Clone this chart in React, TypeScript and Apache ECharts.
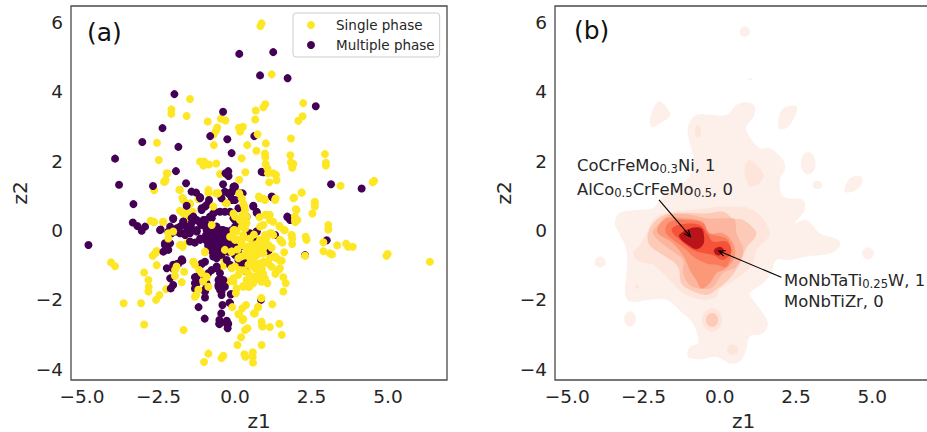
import React, { useEffect, useRef } from "react";
import * as echarts from "echarts";

type P = [number, number];

const xTicks = [-5, -2.5, 0, 2.5, 5];
const yTicks = [-4, -2, 0, 2, 4, 6];

const singlePhaseBack: P[] = [
[-1.47,3.79],[-2.08,3.49],[-2.08,3.36],[-1.58,3.30],[-.89,3.14],[-.46,3.22],[-.31,3.17],[-.58,2.97],[-.62,2.88],[-.69,2.77],
[-2.55,2.53],[-.69,2.46],[-2.49,2.03],[-1.14,1.99],[-1.01,1.99],[-1.03,1.87],[-.85,1.90],[-.61,1.93],[-2.21,1.64],[-.49,1.63],
[-2.27,1.46],[-2.32,1.40],[-2.64,1.16],[-1.80,1.17],[-1.72,.94],[-.87,1.17],[-.62,1.07],[-.49,1.04],[-1.69,.90],[-1.47,.76],
[-1.20,.90],[-.87,1.07],[-.54,1.07],[-.31,.80],[-2.76,.28],[-2.64,.24],[-2.34,.25],[-1.80,.57],[-1.67,.48],[-1.38,.54],[-1.53,.32],
[-1.80,-.42],[-1.71,-.47],[-1.53,-.32],[-2.56,-.59],[-2.61,-.66],[-2.69,-.73],[-2.56,-1.00],[-2.97,-1.21],[-4.05,-.92],[-3.92,-1.03],
[-2.83,-1.43],[-2.82,-1.62],[-2.83,-1.76],[-2.47,-1.86],[-2.25,-1.69],[-2.58,-2.00],[-3.64,-2.10],[-3.07,-2.10],[-2.97,-2.71],[-1.68,-2.87],
[-1.74,-1.49],[-1.66,-1.19],[-.38,-1.02],[-.22,-1.47],[-.33,-.66],[-.38,-.80],[-.87,-3.55],[-1.01,-3.79],[-.38,-3.61],[-.44,-3.68],
[-2.29,1.41],[-2.23,1.65],[-1.82,1.17],[-1.69,.88],[-1.47,.78],[-1.74,.54],[-1.58,.49],[-2.67,.25],[-2.36,.25],[-2.61,-.66],[-1.74,-.42],
];

const singlePhaseFront: P[] = [
[.87,5.97],[.83,5.89],[1.20,4.50],[.13,2.96],[.26,2.99],[.17,2.85],[.68,3.46],[.93,3.55],[.99,3.64],[.66,3.20],[2.23,3.67],[2.21,3.29],
[2.07,3.16],[.74,2.77],[1.83,2.65],[.40,2.46],[1.01,2.51],[.70,2.30],[.98,2.22],[.99,2.11],[1.81,2.17],[2.94,2.20],[.22,2.08],[1.83,1.96],
[1.91,1.92],[1.87,1.81],[2.97,1.95],[2.97,1.87],[1.0,1.92],[1.06,1.79],[1.08,1.65],[1.25,1.65],[1.34,1.60],[1.36,1.45],[.34,1.68],[.14,1.46],
[1.12,1.39],[4.55,1.43],[4.50,1.39],[3.45,1.29],[2.18,1.09],[.14,1.07],[.78,.98],[.93,.91],[1.33,.92],[1.93,.95],[2.61,.83],[.22,.93],[.31,.69],
[2.61,.80],[2.61,.69],[1.99,.61],[2.53,.49],[1.96,.40],[2.04,.30],[1.97,.24],[1.03,.45],[1.14,.30],[.80,.38],[.25,.45],[.38,.21],[.82,.11],
[1.45,.13],[1.60,.01],[3.05,.16],[3.05,.03],[1.85,-.13],[1.87,-.24],[1.87,-.39],[2.31,-.18],[2.34,-.27],[2.89,-.34],[3.34,-.43],[3.63,-.38],
[3.70,-.47],[3.85,-.47],[2.89,-.60],[3.10,-.66],[3.17,-.69],[2.29,-.73],[4.99,-.68],[4.95,-.73],[6.37,-.90],[1.61,-.63],[1.47,-.27],[1.55,-.35],
[1.25,-.13],[1.14,-.08],[-2.18,-.08],[-2.02,-.03],[-2.18,-.23],[-.98,-.63],[-1.96,-1.31],[-1.91,-1.04],[-1.96,-1.14],[-1.36,-.90],[-1.31,-.99],
[-1.17,-1.14],[-1.09,-1.23],[-.93,-1.35],[-1.27,-1.86],[-1.31,-1.91],[-.87,-1.62],[-1.20,-1.71],[-.11,-1.09],[.16,-1.14],[.11,-1.28],[-.05,-1.38],
[.27,-1.60],[.44,-1.62],[.60,-1.52],[.82,-1.43],[.98,-1.38],[1.06,-1.52],[1.58,-1.35],[1.66,-1.52],[1.58,-1.76],[1.47,-1.09],[1.42,-1.14],[1.25,-.75],
[1.36,-.80],[1.53,-.87],[.87,-1.12],[.71,-1.09],[.49,-.99],[.60,-1.33],[.54,-.90],[.38,-.61],[.38,-.47],[.54,-.42],[.71,-.56],[.82,-.66],[.93,-.51],
[.82,-.27],[1.09,-.42],[.11,-.27],[.22,-.42],[.27,-.13],[-.05,-.08],[0,.01],[.22,.11],[-.11,-.61],[.93,-.90],[.76,-.95],[.85,-1.95],[.76,-2.20],
[.65,-2.39],[1.22,-2.13],[-.09,-2.21],[.24,-2.24],[.11,-2.41],[.27,-2.55],[.36,-2.15],[.87,-2.63],[.89,-2.74],[1.45,-2.69],[1.14,-2.78],[1.53,-3.01],
[.33,-2.87],[.41,-2.82],[.20,-3.08],[.08,-3.30],[.87,-3.30],[.31,-3.57],[.34,-3.64],[.58,-3.51],[.58,-3.64],[.59,-3.81],
];

const singlePhaseExtra: P[] = [
[-.55,1.07],[-.27,.78],[-.71,.69],[-.76,.16],[-.98,-.61],[-1.36,-.90],[-.33,-.56],
[0,.40],[.27,.78],[.33,.59],[.16,.30],[.38,.40],[.82,.93],[.98,.88],[1.31,.88],[1.14,.45],[.98,.45],[.93,.16],[1.25,.25],[1.47,.11],[1.63,.01],
[1.91,.93],[2.18,1.09],[2.01,.59],[1.96,.30],[1.85,-.13],[1.52,-.32],[-.05,.01],[.05,-.03],[.33,.06],[0,-.27],[.22,-.37],[.49,-.23],[.82,-.32],[.98,-.13],
[1.2,-.08],[.38,-.56],[.55,-.61],[.76,-.51],[1.03,-.42],[.49,-.80],[.71,-.71],[.93,-.66],[1.14,-.80],[1.31,-.75],[1.47,-.87],[.44,-.99],[.65,-.95],[.87,-.99],
[1.09,-.95],[.65,-1.09],[.87,-1.12],[-.11,-.61],[.11,-.80],[0,-1.04],[-.16,-.18],[-.05,.49],
[-1.04,-1.47],[-.93,-1.33],[-.05,-1.47],[.05,-1.67],[.03,-1.81],[.27,-1.62],[.47,-1.62],[.65,-1.43],[.87,-1.48],[.38,-1.43],[.54,-1.33],[.76,-1.28],
[1.45,-1.11],[.87,-1.95],[.75,-2.22],[.62,-2.39],[.14,-2.42],[.25,-2.58],[.90,-2.77],
[.30,-.20],[.62,-.12],[.68,-.40],[1.02,-.24],[1.20,-.50],[.30,-.72],[.60,-.82],[.92,-1.25],[1.20,-1.05],[1.32,-1.25],[.28,-1.15],[.42,-1.22],[.08,-.55],[.20,-.75],
];

const multiplePhase: P[] = [
[.14,5.09],[1.25,5.14],[.82,4.47],[1.72,4.39],[-1.98,3.93],[-.39,3.42],[2.64,3.58],[-2.37,2.95],[-.81,2.72],[.63,2.72],[-.25,2.63],[-3.03,2.55],
[-1.85,2.41],[-3.92,2.07],[-.11,2.23],[-1.93,1.71],[-.22,1.71],[-.31,1.65],[-.21,1.57],[.93,1.68],[-3.79,1.32],[-2.68,1.28],[-1.60,1.36],[-.39,1.33],
[-.02,1.27],[3.14,1.33],[4.14,1.21],[-1.42,1.12],[-1.27,1.09],[-1.14,.96],[-.33,1.12],[-.22,1.07],[-.09,1.12],[.25,1.07],[1.22,.96],[-.85,.88],[-.10,.90],
[-3.32,.76],[-3.34,.23],[-3.19,.13],[-3.05,-.01],[-2.94,.11],[-2.43,.03],[-2.02,.33],[-4.79,-.42],[-2.12,.11],[-2.18,-.03],[-1.91,.06],[-1.80,-.08],
[-1.63,-.13],[-1.53,-.03],[-1.42,.06],[-1.25,-.03],[-1.69,.25],[-1.42,.35],[-1.14,.21],[-1.03,.30],[-.93,.16],[-.76,.35],[-1.58,.71],[-1.09,.59],[-.98,.69],
[-.87,.78],[-.71,.49],[-.49,.54],[-.33,.54],[-.16,.54],[.05,.30],[.11,.21],[-.09,.88],[.60,.71],[.71,.51],[1.72,.38],[1.82,.32],[1.31,-.13],[.71,-.03],
[.49,-.08],[3.00,-.28],[2.29,-.71],[-1.31,-.35],[-1.14,-.27],[-2.12,-.37],[-2.21,-.47],[-2.29,-.42],[-2.34,-.61],[-2.18,-.56],
[-.93,.02],[-.76,.05],[-.60,.03],[-.44,.01],[-.27,-.02],[-.95,-.14],[-.78,-.12],[-.62,-.15],[-.45,-.13],[-.28,-.16],[-.93,-.29],[-.75,-.28],[-.60,-.30],
[-.43,-.27],[-.26,-.29],[-.88,-.43],[-.72,-.42],[-.58,-.45],[-.42,-.43],[-.30,-.42],[-.80,-.57],[-.66,-.56],[-.52,-.58],[-.38,-.55],[-.70,-.71],[-.55,-.72],[-.44,-.70],
[1.09,-.59],[-.11,-.51],[.05,-.47],[0,-.71],[.22,-.97],[-.27,-.85],[-.60,-.80],[-.98,-.90],[-1.09,-.97],[-1.72,-.87],[-1.91,-.97],[-2.04,-1.09],[-2.12,-1.38],
[-2.02,-1.57],[-2.10,-1.67],[-1.31,-1.35],[-1.25,-1.52],[-1.31,-1.67],[-.93,-1.52],[-.98,-1.71],[-.98,-1.93],[-.87,-1.23],[-.76,-1.14],[-.60,-1.09],[-.49,-1.38],
[-.54,-1.57],[-.49,-1.71],[-.44,-1.86],[-.38,-1.62],[-.13,-1.84],[-.16,-2.10],[-.41,-2.15],[-1.19,-2.21],[-.45,-2.39],[-.99,-2.54],[-.51,-2.68],[-.27,-2.60],
[-.22,-2.69],[-.24,-2.82],[.36,-1.17],[.85,-2.00],
[-1.14,.93],[-.93,.73],[-1.09,.64],[-1.25,.30],[-1.42,.21],[-1.58,.11],[-1.69,.26],[-1.80,.11],[-1.91,-.03],[-1.69,-.08],[-1.47,-.08],[-1.25,.01],[-1.09,.16],
[-.98,.30],[-.82,.40],[-.65,.54],[-.16,1.02],[-.44,.93],[0,.88],[.11,.64],[-.05,1.26],[-.27,1.63],[-.82,.01],[-.60,.11],[-.38,.01],[-.71,-.18],[-.49,-.13],
[-.22,-.18],[-.82,-.51],[-.60,-.42],[-.33,-.42],[-.71,-.75],[-.49,-.66],[-.22,-.61],[-.11,-.42],[0,.11],[-.11,.01],[-2.45,.01],[-2.07,-.08],[-2.29,-.37],
[-1.74,-.83],[-1.85,-.95],[-2.02,-.99],[-2.23,-1.09],[-1.36,.40],[-2.02,.35],[-1.14,-.23],[-1.47,-.32],[.11,-.66],[.33,-.80],[-.16,-.99],
[.60,.69],[.71,.54],[1.2,.98],[1.71,.40],[1.8,.30],[-.11,1.12],[0,1.26],[-.08,.88],[.16,1.07],[.87,1.69],[0,.30],[.38,.40],[-.05,.35],[.71,-.03],[.49,-.13],[.60,-.23],
[0,-.42],[.16,-.47],[.05,-.71],[.11,-.85],[.22,-.99],[1.09,-.59],
[-1.25,-1.33],[-1.31,-1.52],[-.98,-1.33],[-.93,-1.57],[-.98,-1.76],[-.60,-1.04],[-.49,-1.23],[-.54,-1.43],[-.38,-1.43],[-.54,-1.62],[-.44,-1.76],[-.33,-1.62],
[-.14,-1.84],[-.18,-2.08],[-.51,-2.58],[-.51,-2.70],[-.27,-2.68],[-1.09,-.95],[.35,-1.17],
];

const levelColors = ["#fdefe9", "#fde5db", "#fccab7", "#fcb59f", "#fb9878", "#fb7a5b", "#f4533a", "#b81419"];

const level1Main: P[] = [
[.87,3.70],[1.15,3.57],[1.11,3.28],[.87,2.99],[.98,2.70],[1.31,2.37],[1.64,2.37],[2.08,2.03],[2.13,1.74],[1.97,1.46],[2.08,.98],[2.73,.88],[2.79,.59],[2.46,.21],
[2.84,.30],[3.28,-.08],[3.88,-.27],[3.93,-.46],[3.61,-.66],[2.84,-.75],[2.30,-.85],[1.86,-.85],[1.69,-1.23],[1.42,-1.52],[.98,-1.81],[1.09,-2.00],[1.42,-2.39],
[1.58,-2.68],[1.42,-2.96],[.98,-3.06],[.87,-3.44],[.66,-3.78],[.33,-3.83],[-.11,-3.64],[-.66,-3.71],[-1.04,-3.64],[-.98,-3.35],[-.71,-3.25],[-.87,-2.68],[-1.20,-2.39],
[-1.75,-2.00],[-2.30,-2.00],[-2.95,-2.05],[-3.11,-1.81],[-3.06,-1.33],[-3.06,-.56],[-3.33,-.03],[-3.44,.21],[-3.28,.50],[-2.73,.59],[-2.19,.64],[-1.97,.88],[-1.64,1.12],
[-1.20,1.36],[-.93,1.65],[-.87,2.13],[-1.01,2.61],[-1.04,2.99],[-.77,3.33],[-.22,3.33],[.22,3.33],[.55,3.62],
];
const level1IslandA: P[] = [[-2.27,3.28],[-2.02,3.71],[-1.80,3.62],[-1.62,3.33],[-1.86,3.14],[-2.24,2.99]];
const level1IslandB: P[] = [[1.91,3.14],[2.08,3.52],[2.51,3.59],[2.51,3.38],[2.24,2.99],[1.97,2.92]];
const level1IslandC: P[] = [[4.10,1.12],[4.26,1.50],[4.64,1.55],[4.64,1.31],[4.37,1.12]];
const level2IslandA: P[] = [[.82,1.84],[.98,2.03],[1.42,1.65],[1.31,1.36],[.98,1.26],[.87,1.46]];
const level2Main: P[] = [
[-2.84,-.66],[-2.62,-.42],[-2.40,-.08],[-2.19,.30],[-1.86,.49],[-.98,.59],[-.44,.64],[.11,.69],[1.09,.59],[1.64,-.08],[1.20,-.56],[1.09,-.95],[.66,-1.33],[0,-1.71],
[-.11,-1.91],[-.55,-2.00],[-1.20,-1.81],[-1.53,-1.52],[-2.19,-.99],[-2.62,-.90],
];
const level3Main: P[] = [
[-2.35,-.08],[-2.08,.30],[-1.64,.49],[-.44,.49],[.11,.54],[.44,.35],[.77,.30],[1.20,-.08],[.87,-.51],[.66,-.95],[.33,-1.38],[-.11,-1.71],[-.44,-1.86],[-.98,-1.71],
[-1.26,-1.52],[-1.37,-1.04],[-1.86,-.71],[-2.30,-.42],
];
const level4Main: P[] = [
[-2.19,-.08],[-1.97,.21],[-1.64,.45],[-.98,.45],[-.44,.35],[.22,.35],[.49,.30],[.55,-.08],[.77,-.56],[.55,-1.04],[.11,-1.23],[-.22,-1.62],[-.55,-1.69],[-.98,-1.57],
[-1.20,-1.23],[-1.20,-.85],[-1.75,-.47],
];
const level5Main: P[] = [
[-2.05,-.03],[-1.75,.35],[-1.20,.35],[-.55,.25],[-.38,-.08],[.11,-.08],[.44,-.37],[.49,-.75],[.22,-1.09],[-.11,-1.23],[-.33,-1.52],[-.60,-1.67],[-.77,-1.43],[-.98,-1.14],
[-1.15,-.80],[-1.53,-.37],
];
const level6Main: P[] = [
[-1.78,-.03],[-1.64,.25],[-1.09,.30],[-.55,.21],[-.33,-.08],[.22,-.23],[.38,-.56],[.22,-1.04],[-.11,-.99],[-.44,-.95],[-.87,-.75],[-1.09,-.56],[-1.53,-.27],
];
const level7Main: P[] = [
[-1.58,.01],[-1.37,.16],[-.66,.16],[-.38,-.13],[-.22,-.32],[.22,-.32],[.38,-.61],[.11,-.85],[-.22,-.71],[-.49,-.66],[-.87,-.56],[-1.31,-.27],
];
const level8Left: P[] = [[-1.33,-.13],[-.98,.06],[-.60,.06],[-.51,-.18],[-.55,-.42],[-.77,-.54],[-1.04,-.42],[-1.26,-.27]];
const level8Right: P[] = [[-.19,-.56],[0,-.47],[.13,-.56],[.02,-.71],[-.13,-.69]];

// [level, cx, cy, rx, ry] in data units
const islands: number[][] = [
[0,.82,5.73,.17,.15],[0,.99,4.36,.08,.03],[0,2.90,1.94,.24,.32],[0,3.20,1.31,.16,.12],[0,-3.92,-.91,.18,.16],[0,4.86,-.66,.19,.17],[0,-2.94,-2.55,.19,.22],
[1,-2.71,-1.62,.07,.06],[1,.42,-3.44,.18,.15],[1,-.25,-2.58,.33,.34],[2,-.25,-2.58,.2,.2],[1,-.71,2.85,.1,.18],
];

const contours: { level: number; points: P[] }[] = [
  { level: 0, points: level1Main }, { level: 0, points: level1IslandA }, { level: 0, points: level1IslandB }, { level: 0, points: level1IslandC },
  { level: 1, points: level2IslandA }, { level: 1, points: level2Main }, { level: 2, points: level3Main }, { level: 3, points: level4Main },
  { level: 4, points: level5Main }, { level: 5, points: level6Main }, { level: 6, points: level7Main }, { level: 7, points: level8Left }, { level: 7, points: level8Right },
];

// [tailX, tailY, headX, headY]
const arrows: number[][] = [[-1.99,.88,-.96,-.18],[2.02,-1.35,-.03,-.59]];

const fmtX = (v: number) => v.toFixed(1).replace("-", "\u2212");
const fmtY = (v: number) => String(v).replace("-", "\u2212");

const FONT = "DejaVu Sans";
const TEXT = "#262626";
const sub = { fontFamily: FONT, fontSize: 11.6, fill: TEXT, verticalAlign: "bottom", lineHeight: 14, padding: [7, 0, 0, 0] };
const base = { fontFamily: FONT, fontSize: 16.4, fill: TEXT, lineHeight: 20 };

const annText = (x: number, y: number, text: string) => ({
  type: "text", x, y, z: 50,
  style: { text, fontFamily: FONT, fontSize: 16.4, fill: TEXT, textVerticalAlign: "middle", rich: { b: base, s: sub } },
});

export default function App() {
  const ref = useRef<HTMLDivElement>(null);
  useEffect(() => {
    document.body.style.margin = "0";
    const chart = echarts.init(ref.current!, undefined, { renderer: "svg" });
    const axisCommon = {
      type: "value", splitLine: { show: false }, axisLine: { show: false }, axisTick: { show: false },
      nameLocation: "middle",
      nameTextStyle: { fontFamily: FONT, fontSize: 20, color: TEXT },
    };
    const xAxis = (i: number, min: number, max: number) => ({
      ...axisCommon, gridIndex: i, min, max, name: "z1", nameGap: 31,
      axisLabel: { customValues: xTicks, formatter: fmtX, fontFamily: FONT, fontSize: 18.5, color: TEXT, margin: 7 },
    });
    const yAxis = (i: number, min: number, max: number) => ({
      ...axisCommon, gridIndex: i, min, max, name: "z2", nameGap: 41,
      axisLabel: { customValues: yTicks, formatter: fmtY, fontFamily: FONT, fontSize: 18.5, color: TEXT, margin: 8 },
    });
    const scatterBase = { type: "scatter", symbol: "circle", symbolSize: 8, xAxisIndex: 0, yAxisIndex: 0, silent: true };
    const yellow = { color: "#fde725", opacity: 1 };
    const purple = { color: "#440154", opacity: 1 };
    chart.setOption({
      animation: false,
      backgroundColor: "#fff",
      grid: [
        { left: 71, top: 6, width: 376, height: 374, show: true, outerBoundsMode: "none", borderColor: "#4a4a4a", borderWidth: 1.3, backgroundColor: "transparent" },
        { left: 555, top: 6, width: 377, height: 374, show: true, outerBoundsMode: "none", borderColor: "#4a4a4a", borderWidth: 1.3, backgroundColor: "transparent" },
      ],
      xAxis: [xAxis(0, -5.36, 6.93), xAxis(1, -5.4, 6.96)],
      yAxis: [yAxis(0, -4.31, 6.47), yAxis(1, -4.31, 6.47)],
      legend: {
        left: 293, top: 13, orient: "vertical", data: ["Single phase", "Multiple phase"],
        icon: "circle", itemWidth: 40, itemHeight: 8, itemGap: 6, padding: [5, 5, 5, 14],
        borderColor: "#cccccc", borderWidth: 1, borderRadius: 3, backgroundColor: "#ffffff",
        textStyle: { fontFamily: FONT, fontSize: 13.5, color: TEXT },
        selectedMode: false,
      },
      series: [
        { ...scatterBase, name: "Single phase", data: singlePhaseBack, itemStyle: yellow },
        { ...scatterBase, name: "Multiple phase", data: multiplePhase, itemStyle: purple },
        { ...scatterBase, name: "Single phase", data: singlePhaseFront, itemStyle: yellow },
        { ...scatterBase, name: "Single phase", data: singlePhaseExtra, itemStyle: yellow },
        {
          type: "custom", name: "density", xAxisIndex: 1, yAxisIndex: 1, silent: true, clip: false,
          data: [[0, 0]],
          renderItem: (_p: any, api: any) => {
            const children: any[] = [];
            const order = [0, 1, 2, 3, 4, 5, 6, 7];
            for (const lv of order) {
              for (const c of contours.filter((k) => k.level === lv)) {
                children.push({
                  type: "polygon",
                  shape: { points: c.points.map((p) => api.coord(p)), smooth: 0.35 },
                  style: { fill: levelColors[lv], stroke: "none" },
                });
              }
              for (const e of islands.filter((k) => k[0] === lv)) {
                const [cx, cy] = api.coord([e[1], e[2]]);
                const s = api.size([e[3], e[4]]);
                children.push({ type: "ellipse", shape: { cx, cy, rx: s[0], ry: s[1] }, style: { fill: levelColors[lv], stroke: "none" } });
              }
            }
            for (const a of arrows) {
              const t = api.coord([a[0], a[1]]);
              const h = api.coord([a[2], a[3]]);
              const ang = Math.atan2(t[1] - h[1], t[0] - h[0]);
              const L = 7, W = 0.42;
              children.push({ type: "line", shape: { x1: t[0], y1: t[1], x2: h[0], y2: h[1] }, style: { stroke: "#000", lineWidth: 1.1 } });
              children.push({
                type: "polyline",
                shape: { points: [
                  [h[0] + L * Math.cos(ang + W), h[1] + L * Math.sin(ang + W)], h,
                  [h[0] + L * Math.cos(ang - W), h[1] + L * Math.sin(ang - W)],
                ] },
                style: { stroke: "#000", lineWidth: 1.1, fill: "none" },
              });
            }
            return { type: "group", children };
          },
        },
      ],
      graphic: [
        { type: "text", x: 87, y: 32, z: 50, style: { text: "(a)", fontFamily: FONT, fontSize: 25, fill: "#111", textVerticalAlign: "middle" } },
        { type: "text", x: 574, y: 30, z: 50, style: { text: "(b)", fontFamily: FONT, fontSize: 25, fill: "#111", textVerticalAlign: "middle" } },
        annText(577, 165, "{b|CoCrFeMo}{s|0.3}{b|Ni, 1}"),
        annText(577, 189, "{b|AlCo}{s|0.5}{b|CrFeMo}{s|0.5}{b|, 0}"),
        annText(784, 280, "{b|MoNbTaTi}{s|0.25}{b|W, 1}"),
        annText(784, 301, "{b|MoNbTiZr, 0}"),
      ],
    });
    return () => chart.dispose();
  }, []);
  return <div ref={ref} style={{ width: 927, height: 432 }} />;
}
